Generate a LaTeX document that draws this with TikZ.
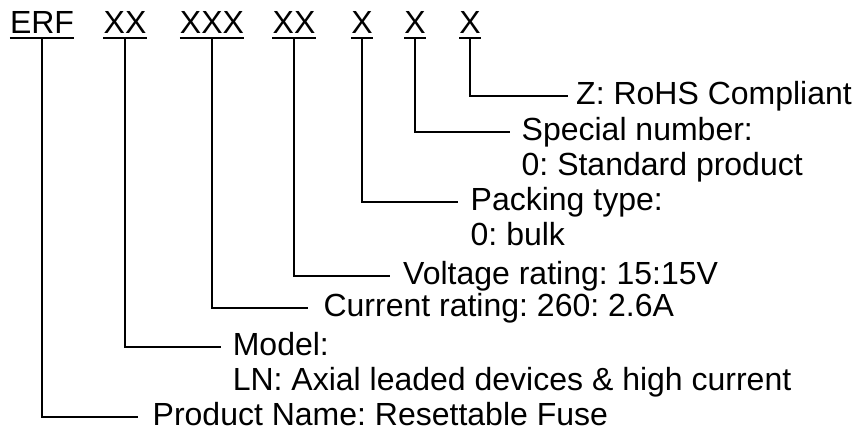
\documentclass[tikz,border=0pt]{standalone}
\usepackage{fontspec}
\setmainfont{Liberation Sans}
\frenchspacing
\usetikzlibrary{positioning, calc}
\tikzset{
  code/.style={inner sep=0pt, anchor=base, font=\fontsize{32}{36}\selectfont},
  desc/.style={inner sep=0pt, anchor=base west, font=\fontsize{32}{36}\selectfont},
  lead/.style={line width=2pt, draw=black},
}

\begin{document}
\begin{tikzpicture}[x=1pt, y=-1pt]
  \useasboundingbox (0,0) rectangle (857,431);

  % part number fields, underlined
  \foreach \name/\x/\txt in {cprod/42/ERF, cmodel/125/XX, ccur/212/XXX, cvolt/294/XX,
                             cpack/362/X, cspec/415/X, crohs/470/X}{
    \node[code] (\name) at (\x,33) {\txt};
    \draw[lead] ([yshift=-5pt]\name.base west) -- ([yshift=-5pt]\name.base east);
  }

  % descriptions
  \node[desc] (rohs) at (576,104) {Z: RoHS Compliant};
  \node[desc] (spec) at (521.5,140) {Special number:};
  \node[desc] (specb) at ([yshift=-35pt]spec.base west) {0: Standard product};
  \node[desc] (pack) at (470.5,210) {Packing type:};
  \node[desc] (packb) at ([yshift=-35pt]pack.base west) {0: bulk};
  \node[desc] (volt) at (403,284) {Voltage rating: 15:15V};
  \node[desc] (cur) at (323.4,316) {Current rating: 260: 2.6A};
  \node[desc] (model) at (232.6,355) {Model:};
  \node[desc] (modelb) at ([yshift=-35pt]model.base west) {LN: Axial leaded devices \& high current};
  \node[desc] (prod) at (152.5,425) {Product Name: Resettable Fuse};

  \foreach \from/\to/\gap in {cprod/prod/14.5pt, cmodel/model/11.6pt, ccur/cur/15pt,
                              cvolt/volt/13pt, cpack/pack/12.5pt, cspec/spec/11.5pt, crohs/rohs/8pt}
    \draw[lead] ([yshift=-5pt]\from.base) |- ([xshift=-\gap, yshift=8.5pt]\to.base west);
\end{tikzpicture}
\end{document}
